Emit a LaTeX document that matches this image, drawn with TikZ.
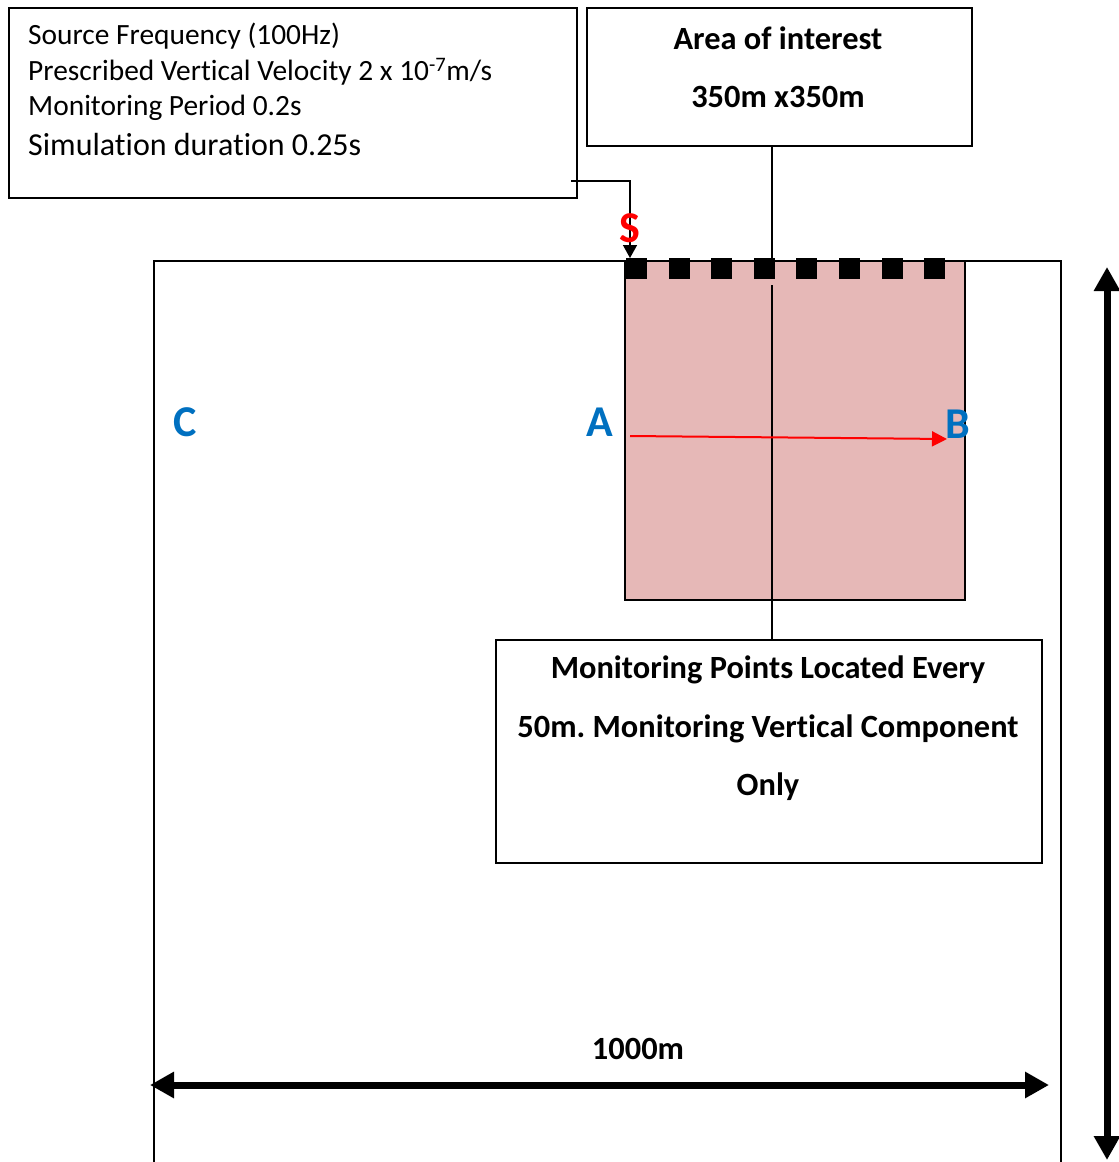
\documentclass[tikz,border=0pt]{standalone}
\usepackage{fontspec}
\setmainfont{Carlito}[Ligatures=NoCommon]
\usetikzlibrary{arrows.meta}
\definecolor{pinkfill}{HTML}{E6B8B7}
\definecolor{letterblue}{HTML}{0070C0}
\tikzset{
  box/.style={draw=black, line width=1.5pt, inner sep=0pt, anchor=north west},
  infotxt/.style={anchor=west, inner sep=0pt, font=\fontsize{29.4}{30}\selectfont},
  boldtxt/.style={inner sep=0pt, font=\fontsize{32.4}{34}\selectfont\bfseries},
  bigletter/.style={inner sep=0pt, font=\fontsize{44}{46}\selectfont\bfseries, text=letterblue},
  sqmark/.style={fill=black, minimum size=21pt, inner sep=0pt},
  conn/.style={draw=black, line width=1.5pt},
  dimarrow/.style={line width=7pt, {Triangle[length=24pt,width=25pt]}-{Triangle[length=24pt,width=25pt]}}
}
\begin{document}
\begin{tikzpicture}[x=1pt,y=-1pt]
\frenchspacing
\useasboundingbox (0,0) rectangle (1119,1162);
% main domain (bottom cut off)
\draw[line width=1.5pt] (154,1162) -- (154,261) -- (1061,261) -- (1061,1162);
% area of interest (pink)
\node[box, fill=pinkfill, minimum width=340pt, minimum height=339pt] (pink) at (624,260) {};
% info box
\node[box, minimum width=568pt, minimum height=190pt] (info) at (8,7) {};
\node[infotxt] (l1) at (28,36) {Source Frequency (100Hz)};
\node[infotxt] (l2) at (28,72) {Prescribed Vertical Velocity 2 x 10\textsuperscript{-7}m/s};
\node[infotxt] (l3) at (28,108) {Monitoring Period 0.2s};
\node[infotxt, font=\fontsize{32}{34}\selectfont] (l4) at (28,145) {Simulation duration 0.25s};
% area box
\node[box, minimum width=385pt, minimum height=138pt] (area) at (586,7) {};
\node[boldtxt] (at1) at (778,38) {Area of interest};
\node[boldtxt] (at2) at (778,97) {350m x350m};
% monitoring box
\node[box, minimum width=546pt, minimum height=223pt] (mon) at (495,639) {};
\node[boldtxt] (mt1) at (768,670) {Monitoring Points Located Every};
\node[boldtxt] (mt2) at (768,729) {50m. Monitoring Vertical Component};
\node[boldtxt] (mt3) at (768,787) {Only};
% monitoring squares
\foreach \i in {1,...,8} {
  \node[sqmark] (m\i) at ({636.5+42.6*(\i-1)},268.5) {};
}
% connectors
\coordinate (c1) at (571,181);
\coordinate (c2) at (630,258);
\draw[conn, -{Triangle[length=13pt,width=14pt]}] (c1) -| (c2);
\coordinate (a1) at (772,145);
\coordinate (a2) at (772,260);
\draw[conn] (a1) -- (a2);
\coordinate (a3) at (772,285);
\draw[conn] (a3) -- (a3 |- mon.north);
% letters
\node[bigletter, text=red] (S) at (630,228) {S};
\node[bigletter] (A) at (600,422) {A};
\node[bigletter] (B) at (958,424) {B};
\node[bigletter] (C) at (185,422) {C};
% A-B arrow
\coordinate (ab1) at (630,436);
\coordinate (ab2) at (947,439);
\draw[red, line width=2pt, -{Triangle[length=15pt,width=15pt]}] (ab1) -- (ab2);
% dimensions
\node[boldtxt] (dim) at (638,1049) {1000m};
\coordinate (h1) at (150,1085);
\coordinate (h2) at (1049,1085);
\draw[dimarrow] (h1) -- (h2);
\coordinate (v1) at (1107,267);
\coordinate (v2) at (1107,1160);
\draw[dimarrow] (v1) -- (v2);
\end{tikzpicture}
\end{document}
